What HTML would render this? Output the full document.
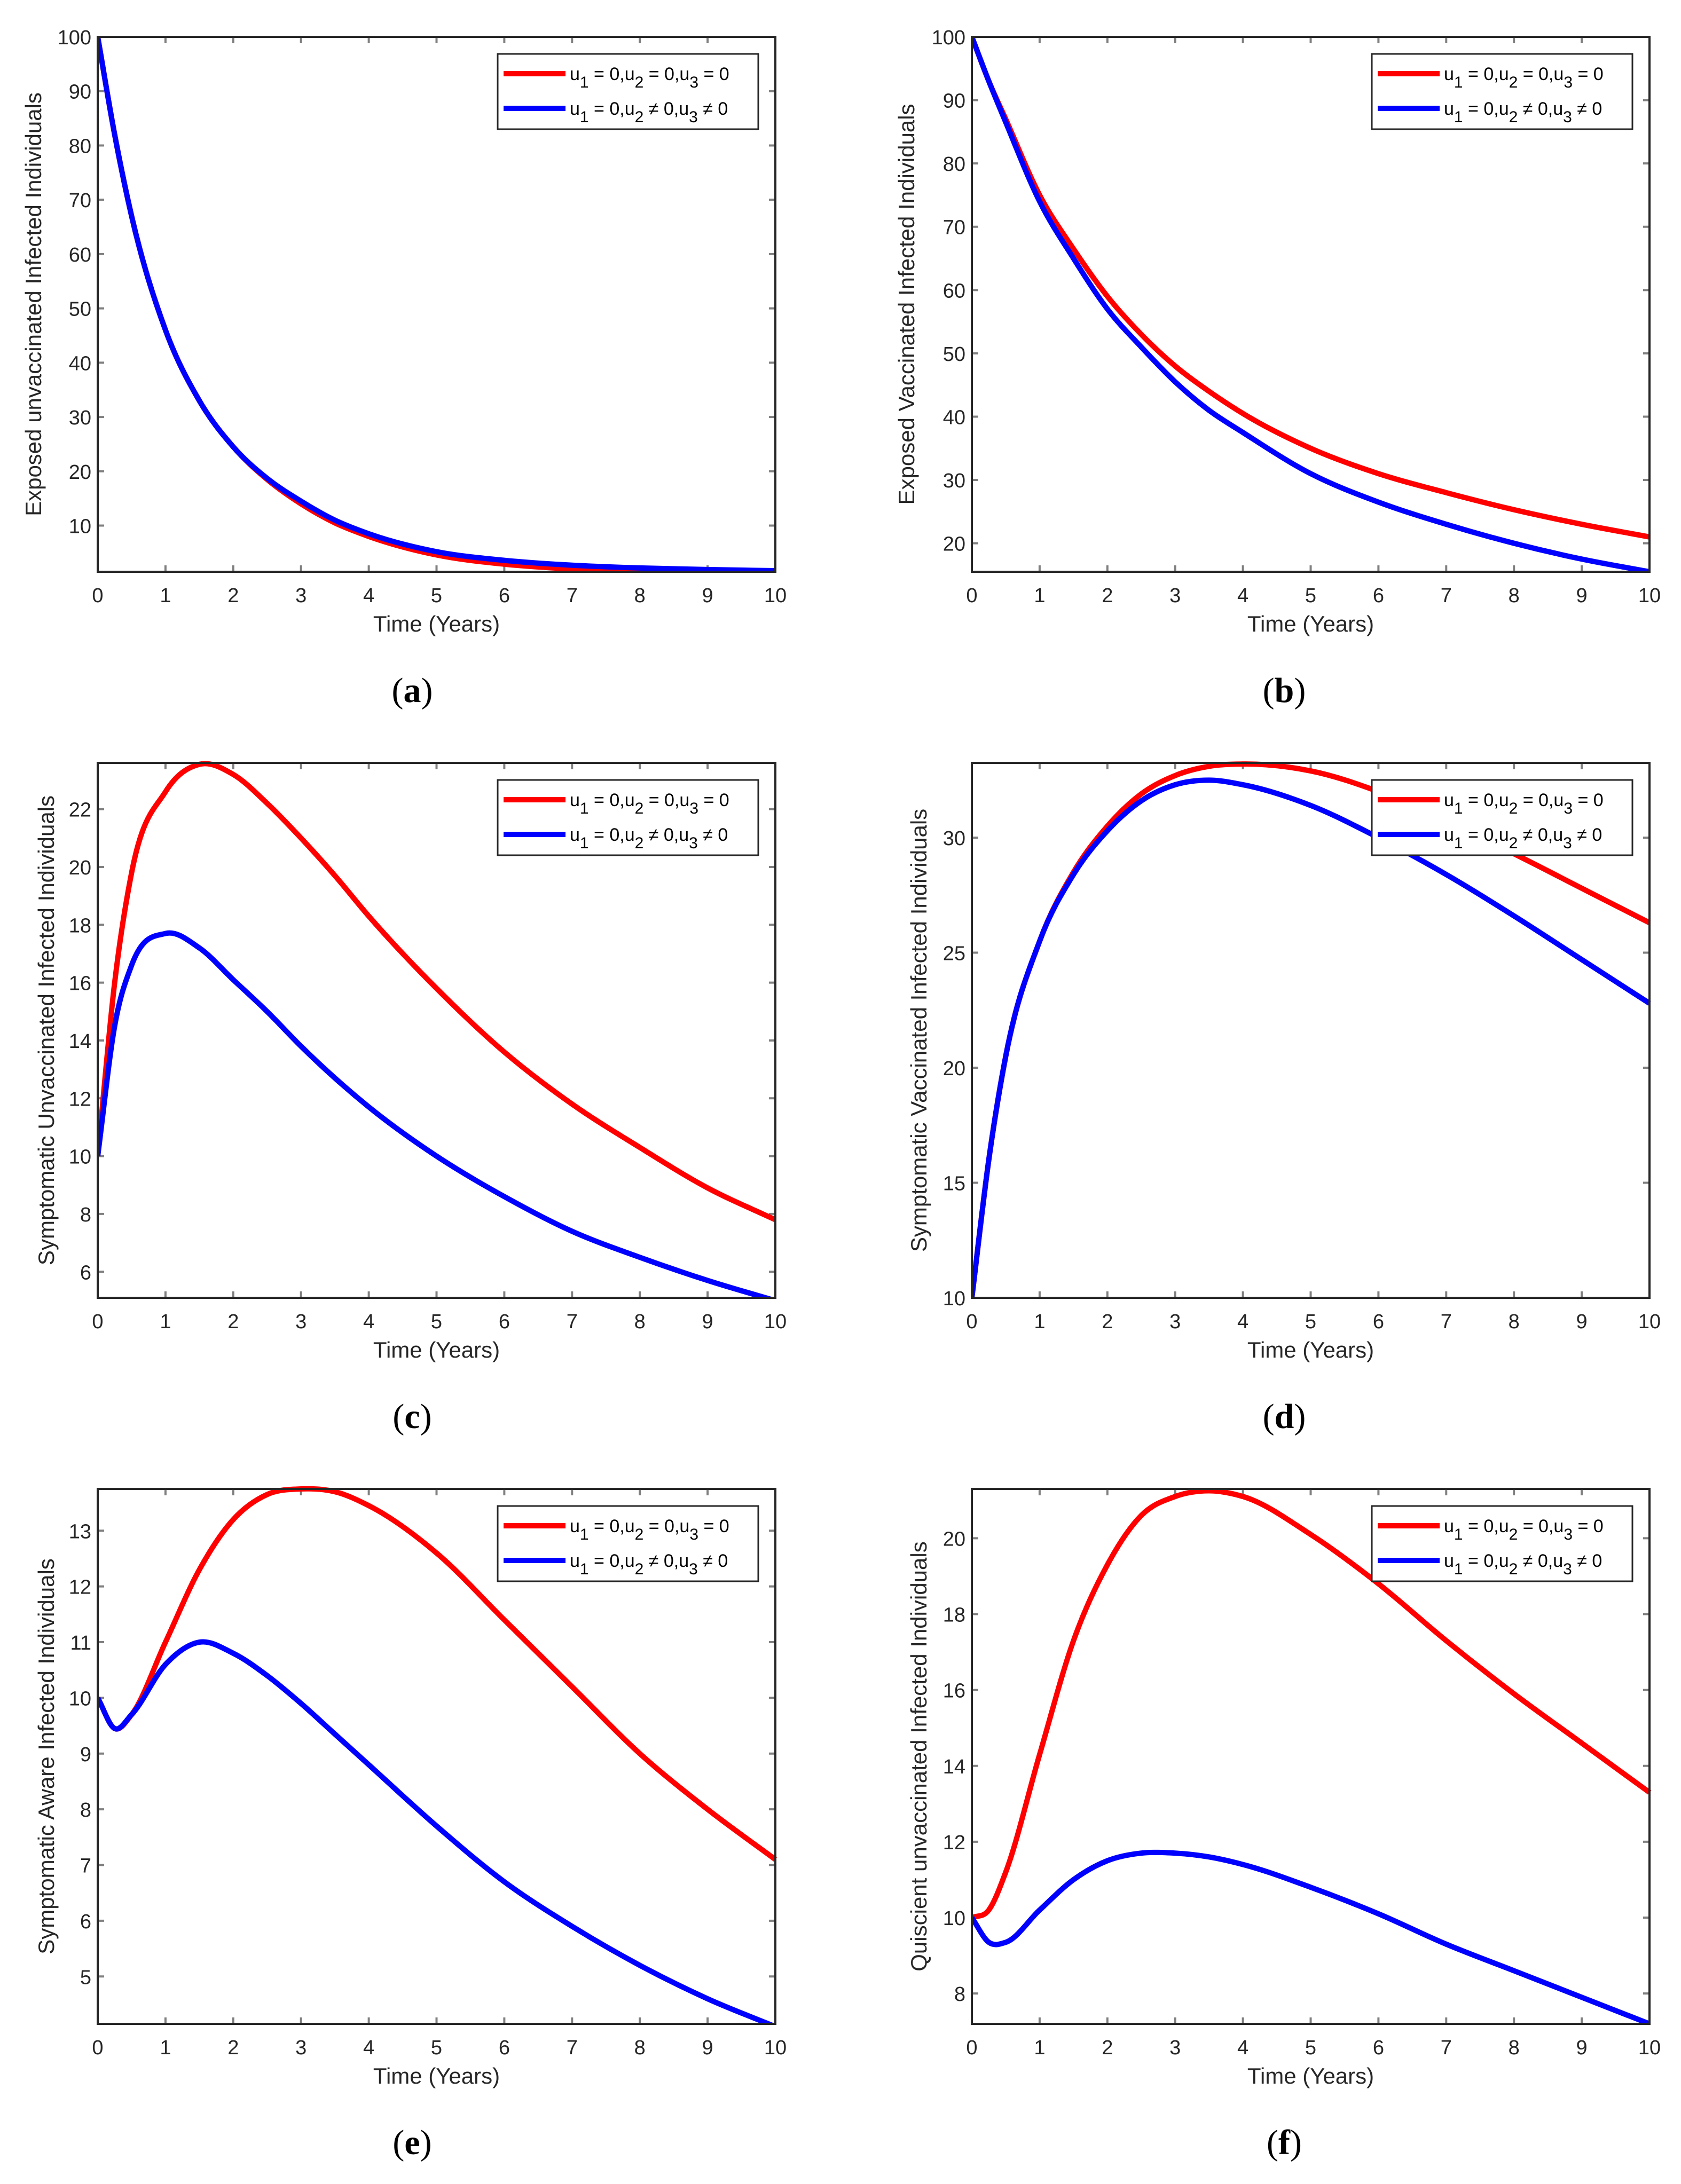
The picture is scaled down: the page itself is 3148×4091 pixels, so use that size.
<!DOCTYPE html>
<html><head><meta charset="utf-8">
<style>
html,body{margin:0;padding:0;background:#fff;}
svg{display:block;}
text{font-family:"Liberation Sans",sans-serif;}
</style></head>
<body>
<svg id="fig" width="3148" height="4091" viewBox="0 0 3148 4091" xmlns="http://www.w3.org/2000/svg"></svg>
<script>
const times = [0,0.25,0.5,1,1.5,2,2.5,3,3.5,4,5,6,7,8,9,10];
const xTicks = [0,1,2,3,4,5,6,7,8,9,10];

const aRed  = [100,82,67,46,33,24.5,18.5,14,10.5,8,4.6,2.9,2.0,1.5,1.2,1.0];
const aBlue = [100,82,67,46,33,24.5,18.7,14.5,11,8.5,5.2,3.6,2.7,2.2,1.9,1.7];
const aTicks = [10,20,30,40,50,60,70,80,90,100];

const bRed  = [100,93,87,75,66.5,59,53,48,44,40.5,35,31,28,25.3,23,21];
const bBlue = [100,93,86.5,74,65,57,51,45.5,41,37.5,31,26.5,23,20,17.5,15.5];
const bTicks = [20,30,40,50,60,70,80,90,100];

const cRed  = [10,16,19.8,22.6,23.55,23.2,22.2,21,19.7,18.3,15.8,13.6,11.8,10.3,8.9,7.8];
const cBlue = [10,14.5,16.6,17.7,17.2,16.1,15,13.8,12.7,11.7,10,8.6,7.4,6.5,5.7,5.0];
const cTicks = [6,8,10,12,14,16,18,20,22];

const dRed  = [10,16,20.5,25.5,28.5,30.5,31.9,32.7,33.1,33.2,32.9,32,30.7,29.3,27.8,26.3];
const dBlue = [10,16,20.5,25.5,28.4,30.3,31.6,32.3,32.5,32.3,31.4,30,28.4,26.6,24.7,22.8];
const dTicks = [10,15,20,25,30];

const eRed  = [10,9.45,9.7,11,12.3,13.2,13.65,13.75,13.7,13.45,12.6,11.4,10.2,9.0,8.0,7.1];
const eBlue = [10,9.45,9.7,10.6,11.0,10.8,10.4,9.9,9.35,8.8,7.7,6.7,5.9,5.2,4.6,4.1];
const eTicks = [5,6,7,8,9,10,11,12,13];

const fRed  = [10,10.2,11.2,14.3,17.3,19.3,20.6,21.1,21.25,21.1,20.1,18.8,17.3,15.9,14.6,13.3];
const fBlue = [10,9.35,9.35,10.2,11.0,11.5,11.7,11.7,11.6,11.4,10.8,10.1,9.3,8.6,7.9,7.2];
const fTicks = [8,10,12,14,16,18,20];

const NS = "http://www.w3.org/2000/svg";
const svg = document.getElementById('fig');
function mk(tag, attrs, parent){
  const e = document.createElementNS(NS, tag);
  for (const k in attrs) e.setAttribute(k, attrs[k]);
  (parent||svg).appendChild(e);
  return e;
}
// cubic Hermite with non-uniform 3-point derivative estimates
function smooth(pts){
  const n = pts.length, m = [];
  for (let i=0;i<n;i++){
    if (i===0) m.push((pts[1][1]-pts[0][1])/(pts[1][0]-pts[0][0]));
    else if (i===n-1) m.push((pts[n-1][1]-pts[n-2][1])/(pts[n-1][0]-pts[n-2][0]));
    else {
      const h0=pts[i][0]-pts[i-1][0], h1=pts[i+1][0]-pts[i][0];
      const s0=(pts[i][1]-pts[i-1][1])/h0, s1=(pts[i+1][1]-pts[i][1])/h1;
      m.push((s0*h1+s1*h0)/(h0+h1));
    }
  }
  let d = `M${pts[0][0]},${pts[0][1]}`;
  for (let i=0;i<n-1;i++){
    const h=pts[i+1][0]-pts[i][0];
    d += ` C${pts[i][0]+h/3},${pts[i][1]+m[i]*h/3} ${pts[i+1][0]-h/3},${pts[i+1][1]-m[i+1]*h/3} ${pts[i+1][0]},${pts[i+1][1]}`;
  }
  return d;
}

const panels = [
  {id:'a', L:183,  T:69,   ymin:1.5,  ymax:100,  ticks:aTicks, red:aRed, blue:aBlue, label:'Exposed unvaccinated Infected Individuals', lx:62,   cx:772},
  {id:'b', L:1820, T:69,   ymin:15.5, ymax:100,  ticks:bTicks, red:bRed, blue:bBlue, label:'Exposed Vaccinated Infected Individuals', lx:1697, cx:2405},
  {id:'c', L:183,  T:1429, ymin:5.1,  ymax:23.6, ticks:cTicks, red:cRed, blue:cBlue, label:'Symptomatic Unvaccinated Infected Individuals', lx:86, cx:772},
  {id:'d', L:1820, T:1429, ymin:10,   ymax:33.25,ticks:dTicks, red:dRed, blue:dBlue, label:'Symptomatic Vaccinated Infected Individuals', lx:1720, cx:2405},
  {id:'e', L:183,  T:2789, ymin:4.15, ymax:13.75,ticks:eTicks, red:eRed, blue:eBlue, label:'Symptomatic Aware Infected Individuals', lx:86, cx:772},
  {id:'f', L:1820, T:2789, ymin:7.2,  ymax:21.3, ticks:fTicks, red:fRed, blue:fBlue, label:'Quiscient unvaccinated Infected Individuals', lx:1720, cx:2405}
];
const W = 1269, H = 1002;

panels.forEach(p=>{
  const g = mk('g', {});
  
  
  const xs = t => p.L + t/10*W;
  const ys = v => p.T + H - (v - p.ymin)/(p.ymax - p.ymin)*H;
  const B = p.T + H, R = p.L + W;

  const clipId = 'clip'+p.id;
  const cp = mk('clipPath', {id:clipId}, g);
  mk('rect', {x:p.L, y:p.T-6, width:W+6, height:H+6}, cp);

  xTicks.forEach(t=>{
    const x = xs(t);
    const tk = mk('path', {d:`M${x},${B} v-12 M${x},${p.T} v12`, stroke:'#808080', 'stroke-width':4}, g);
    
    
    const tl = mk('text', {x:x, y:B+57, 'font-size':38, 'text-anchor':'middle', fill:'#262626'}, g);
    tl.textContent = t;
    
    
  });
  p.ticks.forEach(v=>{
    const y = ys(v);
    const tk = mk('path', {d:`M${p.L},${y} h12 M${R},${y} h-12`, stroke:'#808080', 'stroke-width':4}, g);
    
    
    const tl = mk('text', {x:p.L-12, y:y+14, 'font-size':38, 'text-anchor':'end', fill:'#262626'}, g);
    tl.textContent = v;
    
    
  });

  const rp = mk('path', {d:smooth(times.map((t,i)=>[xs(t), ys(p.red[i])])), fill:'none', stroke:'#ff0000', 'stroke-width':10, 'clip-path':`url(#${clipId})`}, g);
  
  
  const bp = mk('path', {d:smooth(times.map((t,i)=>[xs(t), ys(p.blue[i])])), fill:'none', stroke:'#0000ff', 'stroke-width':10, 'clip-path':`url(#${clipId})`}, g);
  
  

  const ax = mk('rect', {x:p.L, y:p.T, width:W, height:H, fill:'none', stroke:'#262626', 'stroke-width':4}, g);
  
  

  const xt = mk('text', {x:p.L+W/2, y:B+112, 'font-size':42, 'text-anchor':'middle', fill:'#262626'}, g);
  xt.textContent = 'Time (Years)';
  
  
  const yt = mk('text', {x:0, y:0, 'font-size':42, 'text-anchor':'middle', fill:'#262626', transform:`translate(${p.lx+15},${p.T+H/2}) rotate(-90)`}, g);
  yt.textContent = p.label;
  
  

  const lg = mk('g', {}, g);
  
  
  const lR = R - 32, lL = lR - 488, lT = p.T + 32;
  mk('rect', {x:lL, y:lT, width:488, height:141, fill:'#fff', stroke:'#262626', 'stroke-width':3}, lg);
  const entries = [['#ff0000', '='], ['#0000ff', '\u2260']];
  entries.forEach((en, k)=>{
    const yy = lT + 37 + k*65;
    const ln = mk('line', {x1:lL+11, x2:lL+127, y1:yy, y2:yy, stroke:en[0], 'stroke-width':10}, lg);
    
    
    const tx = mk('text', {x:lL+135, y:yy+12, 'font-size':34, fill:'#000'}, lg);
    
    
    const parts = [['u',0],['1',1],[' = 0,u',0],['2',1],[' '+en[1]+' 0,u',0],['3',1],[' '+en[1]+' 0',0]];
    parts.forEach((pt,i)=>{
      const a = {};
      if (pt[1]) { a['font-size'] = 30; a.dy = 14; }
      else if (i>0) a.dy = -14;
      const ts = mk('tspan', a, tx);
      ts.textContent = pt[0];
    });
  });

  const pl = mk('text', {x:p.cx, y:B+244, 'font-size':66, 'text-anchor':'middle', fill:'#000', style:'font-family:"Liberation Serif",serif'}, g);
  
  
  const t1 = mk('tspan', {}, pl); t1.textContent = '(';
  const t2 = mk('tspan', {'font-weight':'bold'}, pl); t2.textContent = p.id;
  const t3 = mk('tspan', {}, pl); t3.textContent = ')';
});
</script>
</body></html>
